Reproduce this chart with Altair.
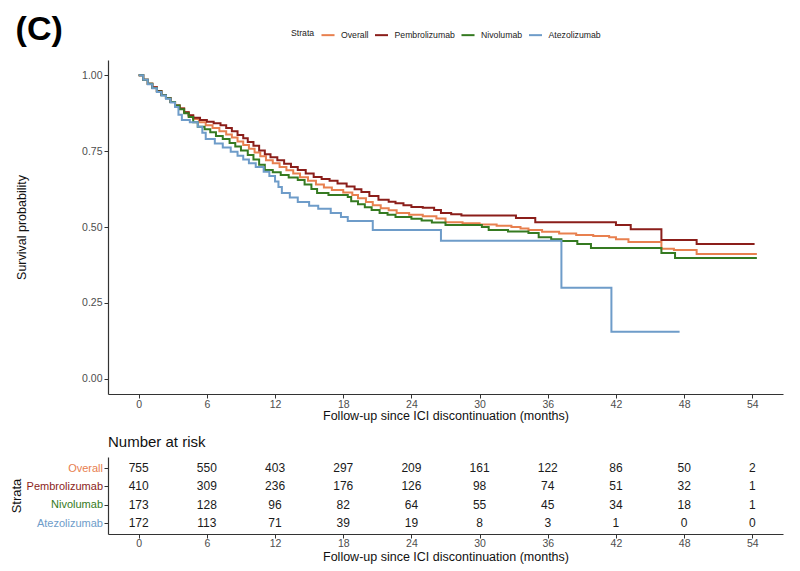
import altair as alt
import pandas as pd

strata = ["Overall", "Pembrolizumab", "Nivolumab", "Atezolizumab"]
colors = ["#E8804F", "#8B1E1A", "#357A21", "#6E9CC9"]

# Kaplan-Meier curves (time in months, survival probability)
overall_t = [0, 0.4, 0.8, 1.2, 1.6, 2.0, 2.4, 2.8, 3.2, 3.6, 4.0, 4.4, 4.8, 5.3, 5.9, 6.5, 7.1, 7.7,
             8.2, 8.7, 9.2, 9.7, 10.2, 10.7, 11.2, 11.8, 12.4, 13.0, 13.6, 14.2, 14.9, 15.6, 16.3,
             17.0, 18.0, 18.8, 19.3, 20.0, 20.6, 21.3, 22.0, 22.7, 23.8, 25.0, 26.2, 27.0, 28.5,
             30.0, 31.5, 32.8, 33.6, 34.3, 35.5, 37.0, 38.5, 40.0, 41.4, 42.0, 43.1, 46.0, 47.1,
             49.1, 54.4]
overall_s = [1.0, 0.985, 0.972, 0.96, 0.948, 0.935, 0.925, 0.912, 0.90, 0.89, 0.878, 0.866, 0.856,
             0.845, 0.835, 0.826, 0.815, 0.805, 0.795, 0.782, 0.77, 0.758, 0.745, 0.733, 0.72, 0.71,
             0.698, 0.687, 0.676, 0.664, 0.652, 0.64, 0.63, 0.622, 0.614, 0.605, 0.595, 0.582, 0.572,
             0.562, 0.555, 0.546, 0.54, 0.535, 0.528, 0.516, 0.512, 0.508, 0.504, 0.50, 0.495, 0.49,
             0.484, 0.479, 0.474, 0.47, 0.466, 0.46, 0.451, 0.428, 0.424, 0.411, 0.411]

pembro_t = [0, 0.4, 0.8, 1.2, 1.6, 2.0, 2.4, 2.8, 3.2, 3.6, 4.0, 4.4, 4.8, 5.4, 6.0, 6.6, 7.2, 7.7,
            8.2, 8.7, 9.2, 9.6, 10.1, 10.6, 11.1, 11.6, 12.2, 12.8, 13.4, 14.0, 14.7, 15.4, 16.1,
            16.8, 17.5, 18.3, 19.0, 19.6, 20.3, 21.1, 22.0, 22.6, 23.3, 24.0, 25.0, 26.0, 26.6,
            27.5, 28.4, 33.2, 34.9, 42.0, 43.3, 46.0, 49.1, 54.2]
pembro_s = [1.0, 0.985, 0.972, 0.96, 0.948, 0.935, 0.925, 0.912, 0.90, 0.89, 0.878, 0.868, 0.86,
            0.852, 0.847, 0.842, 0.835, 0.826, 0.815, 0.803, 0.792, 0.78, 0.768, 0.752, 0.74, 0.73,
            0.72, 0.708, 0.698, 0.688, 0.676, 0.665, 0.658, 0.652, 0.643, 0.633, 0.624, 0.615, 0.602,
            0.59, 0.583, 0.578, 0.572, 0.566, 0.563, 0.556, 0.546, 0.542, 0.538, 0.53, 0.516, 0.507,
            0.493, 0.457, 0.444, 0.444]

nivo_t = [0, 0.4, 0.8, 1.2, 1.6, 2.0, 2.4, 2.8, 3.2, 3.6, 4.0, 4.4, 4.8, 5.2, 5.8, 6.3, 6.8, 7.4,
          8.0, 8.5, 9.0, 9.6, 10.1, 10.6, 11.1, 11.8, 12.5, 13.2, 14.0, 14.6, 15.2, 15.7, 16.7,
          18.4, 18.7, 19.3, 19.9, 20.5, 21.2, 21.9, 22.6, 24.0, 24.9, 25.8, 27.0, 30.2, 30.8, 32.5,
          34.3, 35.2, 36.3, 37.2, 38.6, 39.8, 46.0, 47.2, 54.4]
nivo_s = [1.0, 0.985, 0.972, 0.958, 0.946, 0.934, 0.924, 0.912, 0.90, 0.888, 0.875, 0.862, 0.845,
          0.83, 0.822, 0.812, 0.80, 0.79, 0.777, 0.765, 0.752, 0.737, 0.722, 0.705, 0.688, 0.68,
          0.671, 0.663, 0.655, 0.64, 0.625, 0.612, 0.605, 0.599, 0.585, 0.575, 0.565, 0.556, 0.546,
          0.54, 0.533, 0.527, 0.521, 0.515, 0.507, 0.50, 0.49, 0.485, 0.48, 0.466, 0.46, 0.454,
          0.444, 0.431, 0.414, 0.398, 0.398]

atezo_t = [0, 0.4, 0.8, 1.2, 1.6, 2.0, 2.4, 2.8, 3.2, 3.5, 3.8, 4.5, 5.2, 5.6, 5.9, 6.7, 7.4, 8.1,
           8.7, 9.2, 9.7, 10.3, 11.0, 11.5, 12.0, 12.3, 12.6, 13.3, 14.0, 15.0, 15.8, 16.9, 17.8,
           18.4, 20.6, 26.6, 37.2, 41.6, 47.6]
atezo_s = [1.0, 0.985, 0.97, 0.957, 0.945, 0.933, 0.922, 0.91, 0.895, 0.87, 0.852, 0.845, 0.83,
           0.81, 0.79, 0.775, 0.762, 0.748, 0.735, 0.722, 0.71, 0.698, 0.682, 0.668, 0.65, 0.632,
           0.612, 0.597, 0.582, 0.57, 0.56, 0.546, 0.533, 0.52, 0.49, 0.455, 0.30, 0.155, 0.155]

# Number at risk table
risk_times = [0, 6, 12, 18, 24, 30, 36, 42, 48, 54]
risk_overall = [755, 550, 403, 297, 209, 161, 122, 86, 50, 2]
risk_pembro = [410, 309, 236, 176, 126, 98, 74, 51, 32, 1]
risk_nivo = [173, 128, 96, 82, 64, 55, 45, 34, 18, 1]
risk_atezo = [172, 113, 71, 39, 19, 8, 3, 1, 0, 0]

series = [(overall_t, overall_s), (pembro_t, pembro_s), (nivo_t, nivo_s), (atezo_t, atezo_s)]
rows = []
for i, (name, (ts, ss)) in enumerate(zip(strata, series)):
    for t, s in zip(ts, ss):
        rows.append({"strata": name, "time": t, "surv": s, "ord": i})
curves = pd.DataFrame(rows)

risk_rows = []
for name, vals in zip(strata, [risk_overall, risk_pembro, risk_nivo, risk_atezo]):
    for t, n in zip(risk_times, vals):
        risk_rows.append({"strata": name, "time": t, "n": n})
riskdf = pd.DataFrame(risk_rows)

FONT = "Liberation Sans"
xscale = alt.Scale(domain=[-2.7, 56.7], nice=False, zero=False)
xtitle = "Follow-up since ICI discontinuation (months)"

main = alt.Chart(curves).mark_line(interpolate="step-after", strokeWidth=2).encode(
    x=alt.X("time:Q", scale=xscale,
            axis=alt.Axis(values=risk_times, title=xtitle, labelPadding=1, titlePadding=0)),
    y=alt.Y("surv:Q", scale=alt.Scale(domain=[-0.05, 1.05], nice=False, zero=False),
            axis=alt.Axis(values=[0, 0.25, 0.5, 0.75, 1.0], format=".2f",
                          title="Survival probability", titlePadding=53, labelPadding=2)),
    color=alt.Color("strata:N", scale=alt.Scale(domain=strata, range=colors),
                    legend=alt.Legend(title="Strata", orient="none", direction="horizontal",
                                      titleOrient="left", legendX=183, legendY=-33,
                                      symbolType="stroke", symbolSize=170, symbolStrokeWidth=2,
                                      labelFontSize=8.7, titleFontSize=8.7, titleFontWeight="normal",
                                      labelFont=FONT, titleFont=FONT, labelColor="#222",
                                      titleColor="#222", columnPadding=1.5, labelOffset=5,
                                      titlePadding=5, padding=0)),
    order=alt.Order("ord:Q"),
).properties(
    width=675, height=334,
    title=alt.TitleParams("(C)", anchor="start", frame="bounds", fontSize=34,
                          fontWeight="bold", font=FONT, color="black", offset=-20),
)

label_color = {
    "condition": [
        {"test": "datum.value === 'Overall'", "value": colors[0]},
        {"test": "datum.value === 'Pembrolizumab'", "value": colors[1]},
        {"test": "datum.value === 'Nivolumab'", "value": colors[2]},
    ],
    "value": colors[3],
}

risk = alt.Chart(riskdf).mark_text(fontSize=12, color="#1a1a1a", font=FONT).encode(
    x=alt.X("time:Q", scale=xscale,
            axis=alt.Axis(values=risk_times, title=xtitle, labelPadding=0, titlePadding=2)),
    y=alt.Y("strata:N", scale=alt.Scale(type="point", domain=strata, padding=0.6),
            axis=alt.Axis(title="Strata", labelColor=label_color, labelFontSize=11,
                          titleFontSize=13, titlePadding=3, labelPadding=1.5)),
    text="n:Q",
).properties(
    width=675, height=77,
    title=alt.TitleParams("Number at risk", anchor="start", frame="group", fontSize=15,
                          fontWeight="normal", font=FONT, color="#111", offset=7),
)

chart = alt.vconcat(main, risk, spacing=13).resolve_scale(
    color="independent", x="independent", y="independent"
).properties(
    padding={"left": 10, "top": 13, "right": 10, "bottom": 5}
).configure_view(stroke=None).configure_axis(
    grid=False, labelFont=FONT, titleFont=FONT, labelColor="#4D4D4D", labelFontSize=10.5,
    titleFontSize=12.5, titleFontWeight="normal", titleColor="#111", domainColor="#333",
    domainWidth=1.2, tickColor="#333", tickSize=4,
)

chart.save("out.html", embed_options={"renderer": "svg", "actions": False})
